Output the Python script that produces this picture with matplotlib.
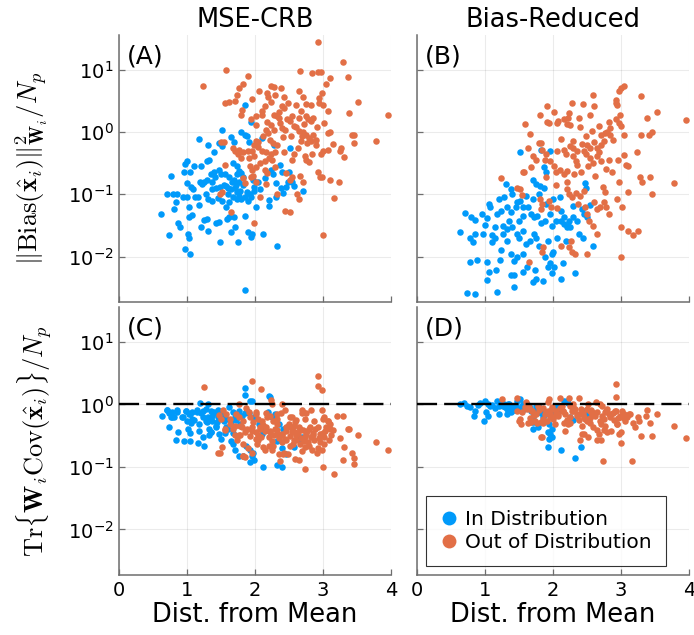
import matplotlib
matplotlib.use("Agg")
import matplotlib.pyplot as plt
from matplotlib.ticker import NullLocator, FixedLocator
from matplotlib.lines import Line2D

# ---------------- data ----------------
# (A) MSE-CRB, bias term
a_in_x = [1.85, 1.94, 1.52, 1.18, 1.31, 1.39, 1.47, 1.51, 1.65, 1.69, 1.79, 1.86, 1.88, 1.91, 2.10, 2.28, 2.51,
          1.29, 1.32, 1.00, 0.97, 1.11, 1.20, 0.96, 0.77, 0.86, 0.70, 0.79, 1.00, 1.06, 1.09, 1.19, 1.25, 1.29,
          1.37, 1.41, 1.47, 1.50, 1.56, 1.62, 1.66, 1.69, 1.74, 1.77, 1.82, 1.67, 1.73, 1.76, 1.95, 1.99, 2.05,
          2.23, 2.26, 2.31, 2.37, 2.40, 2.50, 2.49, 2.38, 2.41, 2.58, 2.71, 1.28, 1.31, 1.37, 1.45, 1.52, 1.57,
          1.62, 1.67, 1.73, 1.76, 1.80, 1.85, 1.89, 1.94, 2.02, 2.21, 2.31, 1.16, 1.18, 0.94, 1.00, 1.03, 1.12,
          0.81, 0.84, 0.62, 0.73, 0.87, 0.89, 1.03, 1.07, 1.20, 1.31, 1.25, 1.30, 1.42, 1.47, 1.59, 1.62, 1.69,
          1.71, 1.85, 1.64, 1.75, 1.02, 1.03, 0.97, 1.04, 1.49, 1.90, 1.96, 1.94, 2.12, 2.33, 1.86, 2.20, 2.45,
          2.55, 1.37, 1.43, 1.57, 1.60, 1.70, 1.73, 1.78, 1.88, 1.92, 1.98, 1.05, 1.22,
          1.40, 1.55, 1.65, 1.72, 1.83, 1.97, 2.08, 2.15, 1.35, 1.48, 1.61, 1.79]
a_in_y = [2.75, 1.45, 1.1, 0.78, 0.63, 0.47, 0.67, 0.59, 0.83, 0.69, 1.02, 0.91, 0.85, 0.69, 0.79, 0.63, 0.56,
          0.34, 0.36, 0.34, 0.31, 0.28, 0.28, 0.23, 0.20, 0.10, 0.10, 0.10, 0.15, 0.13, 0.12, 0.16, 0.16, 0.17,
          0.16, 0.19, 0.25, 0.21, 0.21, 0.19, 0.16, 0.17, 0.21, 0.16, 0.19, 0.32, 0.28, 0.24, 0.19, 0.13, 0.16,
          0.25, 0.21, 0.15, 0.30, 0.23, 0.23, 0.16, 0.126, 0.105, 0.135, 0.115, 0.10, 0.083, 0.078, 0.087, 0.078,
          0.062, 0.074, 0.089, 0.083, 0.093, 0.083, 0.089, 0.078, 0.091, 0.062, 0.081, 0.089, 0.089, 0.068,
          0.089, 0.089, 0.062, 0.091, 0.059, 0.074, 0.048, 0.022, 0.034, 0.030, 0.044, 0.046, 0.030, 0.026,
          0.038, 0.040, 0.035, 0.036, 0.040, 0.044, 0.043, 0.030, 0.045, 0.025, 0.017, 0.023, 0.020, 0.013,
          0.011, 0.017, 0.025, 0.023, 0.021, 0.023, 0.015, 0.0029, 0.065, 0.13, 0.16, 0.12, 0.126, 0.135,
          0.126, 0.126, 0.11, 0.115, 0.11, 0.10, 0.115, 0.23, 0.145,
          0.23, 0.14, 0.12, 0.14, 0.14, 0.17, 0.12, 0.18, 0.21, 0.13, 0.10, 0.22]
a_out_x = [2.92, 3.29, 1.58, 2.66, 2.84, 2.93, 2.97, 3.37, 1.89, 3.11, 1.24, 1.83, 1.77, 3.05, 2.24, 2.28, 2.38,
           2.06, 2.18, 2.19, 2.30, 2.65, 2.99, 2.43, 1.73, 1.71, 1.95, 2.70, 2.94, 2.24, 1.56, 1.62, 2.49, 2.60,
           2.39, 2.43, 2.75, 2.82, 2.94, 3.00, 3.08, 3.52, 3.96, 3.38, 1.81, 1.80, 2.01, 2.10, 2.10, 2.28, 2.32,
           1.94, 2.17, 2.37, 2.35, 2.51, 2.55, 2.65, 2.75, 2.78, 2.82, 2.91, 2.39, 2.44, 2.23, 2.28, 2.16, 2.19,
           2.61, 2.65, 2.71, 2.75, 2.80, 2.83, 2.69, 2.67, 2.77, 2.86, 3.08, 3.10, 3.14, 3.43, 3.46, 3.45, 3.78,
           3.25, 3.27, 3.31, 3.00, 2.97, 3.08, 2.89, 2.73, 2.75, 2.79, 2.84, 2.54, 1.50, 1.55, 1.67, 1.71, 1.77,
           1.82, 1.89, 1.95, 2.01, 2.05, 2.10, 2.16, 2.20, 2.23, 2.25, 2.30, 2.43, 1.75, 1.80, 1.91, 1.99, 2.08,
           2.15, 1.92, 1.95, 2.01, 1.56, 2.14, 2.18, 2.29, 1.82, 1.85, 1.94, 1.97, 2.16, 2.02, 1.48, 1.51, 2.08,
           2.33, 2.62, 2.64, 2.44, 2.51, 1.64, 1.99, 3.16, 3.00, 2.66, 2.71, 2.55, 2.51, 2.92, 2.96, 3.11, 3.24,
           2.99, 2.46,
           2.02, 2.12, 2.22, 2.33, 2.41, 2.47, 2.57, 2.63, 2.72, 2.86, 2.90, 3.02, 2.05, 2.26, 2.53, 2.68, 2.36,
           2.14, 1.98, 2.58]
a_out_y = [28, 13.5, 10, 9.6, 8.9, 9.1, 9.1, 7.8, 8.0, 7.4, 5.5, 5.9, 5.1, 5.9, 5.6, 5.3, 5.1, 4.5, 4.3, 3.7,
           4.0, 4.5, 4.3, 3.7, 4.0, 3.2, 3.4, 3.6, 3.5, 3.0, 2.9, 3.0, 2.9, 2.7, 2.6, 2.4, 2.8, 2.7, 2.9, 2.7,
           2.2, 3.0, 1.9, 2.0, 2.3, 1.9, 1.8, 2.2, 1.9, 1.9, 1.8, 1.6, 1.45, 1.4, 1.7, 1.5, 1.8, 1.7, 1.8, 1.6,
           1.5, 1.2, 1.17, 1.07, 1.3, 1.1, 1.1, 0.97, 1.2, 1.05, 1.0, 0.9, 0.8, 0.72, 0.86, 0.71, 0.67, 0.9,
           0.98, 1.0, 0.65, 0.9, 0.89, 0.67, 0.71, 0.49, 0.56, 0.40, 0.5, 0.44, 0.52, 0.62, 0.41, 0.35, 0.33,
           0.44, 0.35, 0.69, 0.69, 0.56, 0.5, 0.52, 0.48, 0.5, 0.49, 0.71, 0.69, 0.5, 0.47, 0.39, 0.44, 0.36,
           0.48, 0.47, 0.44, 0.39, 0.38, 0.41, 0.32, 0.34, 0.28, 0.25, 0.27, 0.30, 0.25, 0.22, 0.27, 0.18, 0.15,
           0.19, 0.20, 0.145, 0.16, 0.10, 0.11, 0.089, 0.10, 0.10, 0.083, 0.054, 0.052, 0.052, 0.035, 0.087,
           0.022, 0.20, 0.16, 0.19, 0.17, 0.23, 0.19, 0.17, 0.16, 0.19, 0.22,
           1.3, 0.85, 0.75, 0.62, 0.82, 1.6, 1.25, 0.55, 1.35, 1.7, 0.75, 1.4, 0.58, 0.68, 0.85, 2.2, 2.1,
           2.6, 0.62, 0.45]

# (B) Bias-Reduced, bias term
b_in_x = [1.52, 1.83, 1.87, 1.90, 1.96, 2.47, 2.49, 1.70, 1.75, 1.81, 1.87, 1.31, 1.38, 1.20, 1.06, 1.07, 0.70,
          0.79, 0.86, 0.96, 1.03, 1.18, 1.23, 1.32, 1.38, 1.45, 1.47, 1.52, 1.56, 1.63, 1.67, 1.72, 1.77, 1.82,
          1.88, 1.96, 1.98, 2.04, 2.12, 2.16, 2.22, 2.25, 2.30, 2.36, 2.43, 2.45, 2.50, 2.55, 0.63, 0.78, 0.82,
          0.86, 0.97, 1.00, 1.11, 1.14, 1.26, 1.27, 1.33, 1.39, 1.47, 1.50, 1.56, 1.60, 1.66, 1.72, 1.75, 1.79,
          1.92, 2.00, 1.98, 2.06, 2.19, 2.38, 2.44, 2.59, 0.78, 0.88, 1.03, 1.03, 1.06, 1.16, 1.22, 1.24, 1.38,
          1.42, 1.47, 1.56, 1.38, 1.42, 1.43, 1.56, 1.62, 1.73, 1.71, 1.75, 1.86, 1.92, 1.96, 2.01, 1.98, 2.12,
          2.14, 2.33, 0.74, 0.85, 1.18, 1.88, 2.12, 2.16, 2.20, 2.24, 1.10, 1.56, 1.50, 1.35, 1.32,
          1.60, 1.70, 1.80, 1.90, 2.00, 2.10, 1.40, 1.28, 1.15, 2.30]
b_in_y = [0.47, 0.52, 0.27, 0.23, 0.5, 0.15, 0.126, 0.17, 0.145, 0.135, 0.126, 0.145, 0.12, 0.083, 0.069, 0.063,
          0.050, 0.043, 0.038, 0.048, 0.042, 0.048, 0.054, 0.062, 0.052, 0.062, 0.074, 0.078, 0.062, 0.062, 0.048,
          0.043, 0.045, 0.035, 0.037, 0.048, 0.031, 0.037, 0.054, 0.043, 0.031, 0.030, 0.044, 0.037, 0.058, 0.048,
          0.044, 0.068, 0.025, 0.020, 0.017, 0.023, 0.023, 0.032, 0.022, 0.020, 0.031, 0.023, 0.018, 0.030, 0.023,
          0.020, 0.026, 0.016, 0.018, 0.023, 0.020, 0.015, 0.018, 0.012, 0.011, 0.020, 0.018, 0.023, 0.020, 0.015,
          0.0083, 0.0089, 0.0081, 0.0042, 0.0056, 0.0060, 0.0089, 0.0126, 0.011, 0.0085, 0.010, 0.011, 0.0051,
          0.0051, 0.0032, 0.0056, 0.0069, 0.0060, 0.0039, 0.0044, 0.0040, 0.0068, 0.0078, 0.0068, 0.0054, 0.0044,
          0.0078, 0.0054, 0.0026, 0.0025, 0.0027, 0.010, 0.037, 0.033, 0.030, 0.037, 0.017, 0.045, 0.037, 0.037,
          0.028,
          0.095, 0.085, 0.10, 0.07, 0.085, 0.09, 0.10, 0.09, 0.03, 0.065]
b_out_x = [3.04, 3.00, 2.97, 2.59, 3.30, 2.92, 2.93, 2.94, 2.28, 2.44, 2.61, 1.91, 2.02, 3.53, 2.24, 2.22, 2.55,
           1.81, 1.91, 1.94, 2.08, 2.06, 2.16, 2.20, 2.25, 2.38, 2.40, 2.99, 2.93, 2.97, 3.00, 3.38, 2.82, 2.84,
           2.67, 1.59, 3.96, 3.46, 3.41, 3.29, 3.05, 2.77, 2.80, 2.84, 2.71, 2.75, 1.66, 1.79, 1.82, 1.84, 1.63,
           1.71, 1.75, 1.68, 1.56, 1.58, 1.89, 1.88, 2.06, 2.16, 2.19, 2.25, 2.29, 2.35, 2.43, 2.50, 2.54, 2.60,
           2.45, 2.49, 2.65, 2.68, 2.71, 2.64, 2.55, 2.59, 2.82, 2.87, 2.96, 3.04, 3.07, 3.10, 3.24, 2.30, 2.34,
           1.96, 2.01, 2.05, 2.10, 2.16, 2.21, 2.31, 2.41, 1.89, 1.24, 1.47, 1.52, 1.55, 1.81, 1.84, 1.82, 1.94,
           1.97, 2.21, 2.24, 2.28, 2.34, 2.40, 2.37, 2.47, 2.45, 2.50, 2.53, 2.60, 2.65, 2.69, 2.59, 2.65, 2.75,
           2.78, 2.83, 2.94, 3.01, 3.11, 3.28, 3.31, 3.43, 3.45, 3.78, 2.97, 3.00, 3.11, 3.17, 3.25, 3.00, 2.12,
           2.24, 2.28, 2.33, 2.50, 1.86, 1.84, 1.65, 2.26, 2.06, 2.73, 2.77,
           2.12, 2.30, 2.48, 2.58, 2.70, 2.88, 2.35, 2.52, 2.62, 2.78, 2.20, 2.05]
b_out_y = [5.6, 5.1, 4.5, 4.0, 3.8, 3.3, 2.9, 2.7, 2.9, 2.8, 2.6, 2.6, 2.1, 2.1, 2.0, 1.7, 1.9, 1.9, 1.45, 1.4,
           1.5, 1.4, 1.6, 1.35, 1.3, 1.7, 1.2, 1.9, 1.6, 1.4, 1.23, 1.7, 1.45, 1.17, 1.23, 1.35, 1.55, 1.0, 0.91,
           0.89, 0.91, 0.98, 1.02, 0.91, 0.89, 0.71, 0.93, 0.67, 0.67, 0.52, 0.56, 0.41, 0.35, 0.27, 0.23, 0.23,
           0.44, 0.35, 0.5, 0.52, 0.45, 0.59, 0.56, 0.5, 0.65, 0.63, 0.56, 0.69, 0.49, 0.44, 0.56, 0.48, 0.34,
           0.41, 0.38, 0.32, 0.36, 0.23, 0.35, 0.43, 0.30, 0.28, 0.48, 0.41, 0.34, 0.34, 0.28, 0.23, 0.25, 0.21,
           0.24, 0.21, 0.23, 0.19, 0.18, 0.126, 0.12, 0.098, 0.083, 0.069, 0.058, 0.078, 0.062, 0.12, 0.10,
           0.089, 0.105, 0.093, 0.069, 0.062, 0.115, 0.048, 0.037, 0.074, 0.058, 0.062, 0.031, 0.023, 0.074,
           0.062, 0.048, 0.083, 0.062, 0.11, 0.19, 0.16, 0.19, 0.10, 0.15, 0.16, 0.030, 0.026, 0.022, 0.026,
           0.010, 0.015, 0.014, 0.012, 0.011, 0.011, 0.014, 0.012, 0.0083, 0.018, 0.06, 0.13, 0.11,
           0.78, 0.72, 0.85, 1.05, 0.62, 0.75, 0.30, 0.28, 0.20, 0.26, 0.16, 0.14]

# (C) MSE-CRB, covariance term
c_in_x = [1.85, 1.86, 2.21, 1.19, 1.31, 0.63, 0.70, 0.78, 0.86, 0.81, 0.74, 0.87, 0.84, 0.98, 1.04, 1.08, 0.94,
          1.00, 1.02, 1.05, 0.96, 1.04, 1.14, 1.20, 1.24, 1.28, 1.35, 1.40, 1.46, 1.18, 1.28, 1.33, 1.23, 1.16,
          1.25, 1.36, 1.42, 1.47, 1.50, 1.56, 1.62, 1.67, 1.70, 1.76, 1.81, 1.85, 1.91, 1.96, 1.98, 1.64, 1.67,
          1.71, 1.76, 1.82, 1.87, 1.92, 1.95, 1.98, 2.12, 2.32, 2.40, 2.39, 2.45, 2.58, 2.19, 2.25, 2.30, 2.69,
          2.06, 2.14, 2.11, 2.35, 2.41, 1.55, 1.58, 1.31, 1.37, 1.11, 1.06, 0.73, 0.77,
          0.71, 0.86, 0.93, 1.03, 1.08, 1.15, 1.23, 1.30, 1.37, 1.42, 1.18, 1.32, 0.78, 0.98, 1.39, 1.44, 1.36,
          1.53, 1.88, 1.80, 1.97, 1.93, 2.32, 2.66, 2.22, 1.93,
          1.45, 1.52, 1.58, 1.65, 1.72, 1.78, 1.60, 1.68]
c_in_y = [1.85, 1.4, 1.35, 1.05, 1.02, 0.66, 0.81, 0.76, 0.81, 0.63, 0.43, 0.36, 0.27, 0.79, 0.71, 0.76, 0.63,
          0.55, 0.41, 0.35, 0.26, 0.26, 0.81, 0.72, 0.79, 0.85, 0.79, 0.72, 0.81, 0.49, 0.55, 0.41, 0.30, 0.24,
          0.22, 0.36, 0.46, 0.34, 0.28, 0.35, 0.91, 0.76, 0.63, 0.79, 0.65, 0.72, 0.72, 1.12, 0.63, 0.26, 0.23,
          0.19, 0.15, 0.15, 0.22, 0.19, 0.15, 0.13, 0.10, 0.107, 0.10, 0.20, 0.16, 0.21, 0.76, 0.63, 0.71, 0.30,
          0.49, 0.41, 0.34, 0.49, 0.41, 0.55, 0.44, 0.63, 0.55, 0.57, 0.50, 0.72, 0.63,
          0.83, 0.76, 0.63, 0.71, 0.59, 0.76, 0.63, 0.52, 0.66, 0.43, 0.38, 0.32, 0.63, 0.79, 0.76, 0.52, 0.36,
          0.66, 0.79, 0.66, 0.17, 0.12, 0.26, 0.28, 1.3, 1.15,
          0.62, 0.70, 0.58, 0.52, 0.56, 0.48, 0.40, 0.35]
c_out_x = [2.92, 1.25, 1.95, 2.09, 2.92, 2.98, 2.23, 2.25, 2.39, 1.76, 1.53, 1.58, 1.47, 1.50, 1.72, 1.77, 1.82,
           1.87, 1.91, 2.01, 2.05, 2.10, 2.16, 2.22, 2.26, 2.32, 2.38, 2.44, 2.55, 2.60, 2.69, 2.75, 2.83, 2.87,
           2.69, 2.73, 3.02, 3.08, 3.10, 2.99, 3.29, 3.37, 3.38, 3.52, 3.25, 3.31, 3.43, 3.45, 3.45, 3.29, 3.78,
           3.96, 3.00, 3.16, 2.73, 2.59, 2.64, 2.35, 2.41, 1.83, 1.85, 1.46, 1.51, 1.90, 1.95, 2.14, 2.20, 2.25,
           2.04, 2.09, 1.81, 1.86, 1.92, 1.96, 2.01, 2.07, 2.16, 2.22, 2.28, 2.33, 2.40, 2.45, 2.50, 2.55, 2.59,
           2.65, 2.71, 2.75, 2.80, 2.86, 2.92, 2.96, 3.02, 3.09, 3.14, 3.12, 2.60, 2.66, 2.73, 2.79, 2.84, 2.92,
           2.45, 2.51, 1.63, 1.68, 1.56, 1.76, 1.73, 3.02, 2.99,
           1.63, 1.78, 1.88, 1.97, 2.07, 2.17, 2.22, 2.32, 2.39, 2.47, 2.54, 2.59, 2.66, 2.74, 2.81, 2.86, 2.96,
           3.03, 3.08, 1.71, 1.83, 2.02, 2.12, 2.27, 2.42, 2.56, 2.69, 1.93, 2.02, 2.32, 2.51, 2.71, 1.56, 1.49,
           1.83, 2.37, 2.49, 2.91, 3.10, 3.20, 3.00, 2.15, 2.34, 2.44, 2.61, 2.78,
           1.95, 2.05, 2.12, 2.20, 2.30, 2.36, 2.46, 2.52, 2.58, 2.63, 2.68, 2.77, 2.82, 2.88, 2.94, 3.00, 3.05,
           2.25, 2.40, 2.57, 2.72, 2.87, 2.03, 1.78, 1.70]
c_out_y = [2.9, 1.9, 2.35, 1.8, 1.95, 1.7, 1.18, 1.02, 1.0, 1.02, 0.81, 0.71, 0.69, 0.59, 0.71, 0.63, 0.55, 0.89,
           0.76, 0.71, 0.59, 0.55, 0.72, 0.65, 0.55, 0.59, 0.72, 0.81, 0.63, 0.57, 0.81, 0.72, 0.81, 0.55, 0.72,
           0.59, 0.63, 0.55, 0.49, 0.81, 0.65, 0.41, 0.41, 0.32, 0.29, 0.21, 0.17, 0.14, 0.11, 0.13, 0.25, 0.19,
           0.10, 0.076, 0.091, 0.135, 0.13, 0.16, 0.16, 0.15, 0.145, 0.17, 0.21, 0.20, 0.17, 0.19, 0.22, 0.19,
           0.27, 0.30, 0.44, 0.36, 0.31, 0.44, 0.36, 0.40, 0.44, 0.37, 0.32, 0.39, 0.34, 0.44, 0.48, 0.41, 0.36,
           0.44, 0.39, 0.34, 0.41, 0.35, 0.44, 0.34, 0.30, 0.27, 0.39, 0.32, 0.27, 0.23, 0.21, 0.22, 0.19, 0.20,
           0.27, 0.22, 0.49, 0.41, 0.39, 0.32, 0.27, 0.23, 0.19,
           0.59, 0.46, 0.41, 0.52, 0.43, 0.63, 0.36, 0.49, 0.32, 0.43, 0.36, 0.52, 0.41, 0.30, 0.43, 0.32, 0.25,
           0.38, 0.55, 0.32, 0.23, 0.28, 0.21, 0.22, 0.17, 0.23, 0.18, 0.63, 0.76, 0.71, 0.63, 0.76, 0.41, 0.17,
           0.15, 0.126, 0.16, 0.17, 0.41, 0.66, 0.59, 0.38, 0.34, 0.28, 0.32, 0.25,
           0.37, 0.33, 0.47, 0.30, 0.40, 0.29, 0.37, 0.31, 0.45, 0.35, 0.29, 0.37, 0.30, 0.40, 0.29, 0.35, 0.44,
           0.26, 0.25, 0.27, 0.26, 0.27, 0.23, 0.33, 0.45]

# (D) Bias-Reduced, covariance term
d_in_x = [0.63, 0.69, 0.74, 0.78, 0.86, 0.84, 0.98, 0.93, 1.00, 1.04, 1.08, 1.02, 1.05, 1.18, 1.23, 1.26, 1.30,
          1.21, 1.33, 1.38, 1.35, 1.40, 1.43, 1.47, 1.52, 1.56, 1.60, 1.70, 1.72, 1.71, 1.86, 1.94, 1.98, 1.96,
          1.94, 1.92, 2.12, 2.33, 2.41, 2.16, 2.22, 2.06, 2.11, 2.25, 2.30, 2.45, 2.50, 1.80, 1.85,
          1.34, 1.44, 1.39, 1.69, 1.78, 1.93, 1.98, 2.20, 1.10, 1.15, 1.28, 1.32, 1.45, 1.50, 1.55, 1.62, 1.66,
          1.75, 0.90, 1.20,
          1.58, 1.64, 1.68, 1.76, 1.82, 1.88, 1.95, 2.02]
d_in_y = [1.02, 1.05, 0.96, 0.91, 0.80, 0.66, 0.54, 1.05, 1.12, 1.02, 0.93, 0.76, 0.66, 1.15, 1.05, 0.96, 0.91,
          0.71, 0.71, 0.76, 1.02, 0.91, 0.81, 1.12, 1.23, 1.02, 0.91, 0.63, 0.52, 0.41, 0.63, 0.49, 0.41, 0.34,
          0.28, 0.21, 0.19, 0.14, 0.21, 1.15, 1.05, 0.91, 0.81, 0.63, 0.57, 0.79, 0.71, 0.91, 0.79,
          1.02, 0.91, 0.85, 0.52, 0.43, 0.36, 0.30, 1.15, 0.98, 0.87, 1.0, 0.86, 0.98, 0.86, 0.95, 1.0, 0.88,
          0.95, 0.98, 0.93,
          0.84, 0.95, 0.78, 0.86, 0.74, 0.70, 0.80, 0.76]
d_out_x = [2.92, 2.92, 1.25, 1.47, 1.94, 2.10, 2.24, 2.38, 2.63, 2.69, 1.47, 1.50, 1.53, 1.65, 1.69, 1.75, 1.76,
           1.86, 1.91, 1.84, 1.98, 2.04, 2.08, 2.14, 2.16, 2.21, 2.25, 2.30, 2.35, 2.41, 2.45, 2.50, 2.55, 2.60,
           2.39, 2.43, 2.52, 2.65, 2.70, 2.75, 2.80, 2.64, 2.70, 2.73, 3.16, 2.86, 2.92, 2.99, 3.04, 2.94, 3.00,
           2.97, 3.00, 3.08, 3.12, 3.29, 3.25, 3.27, 3.38, 3.37, 3.43, 3.45, 3.53, 3.78, 3.96, 3.18, 3.20, 2.78,
           2.82, 2.56, 2.58, 1.63, 1.67, 2.25, 2.30, 1.86, 1.92, 1.96, 2.00,
           1.59, 1.69, 1.78, 1.88, 1.98, 2.08, 2.15, 2.25, 2.32, 2.40, 2.47, 2.54, 2.62, 2.69, 2.76, 2.84, 2.91,
           2.99, 3.06, 3.13, 1.83, 2.03, 2.22, 2.42, 2.59, 2.76, 2.94, 1.74, 1.61, 1.93, 2.52, 2.72, 2.30, 2.13,
           2.45, 2.67, 2.86, 2.18, 1.83, 1.51,
           1.55, 1.62, 1.72, 1.80, 1.90, 1.95, 2.05, 2.10, 2.18, 2.28, 2.36, 2.44, 2.50, 2.57, 2.64, 2.72, 2.80,
           2.88, 2.95, 3.02, 3.09, 1.66, 1.85, 2.00, 2.20, 2.38, 2.55, 2.75, 2.90, 3.05]
d_out_y = [2.1, 1.3, 1.23, 1.28, 1.23, 1.28, 1.28, 1.28, 1.1, 1.0, 0.80, 0.55, 0.49, 0.91, 0.80, 0.71, 0.50,
           0.50, 0.55, 0.30, 0.91, 0.80, 0.71, 0.78, 0.50, 0.55, 0.50, 0.80, 0.71, 0.85, 0.63, 0.55, 0.50, 0.71,
           0.27, 0.34, 0.30, 0.39, 0.49, 0.39, 0.36, 0.27, 0.27, 0.126, 0.126, 0.71, 0.80, 0.63, 0.71, 0.49, 0.36,
           0.34, 0.24, 0.63, 0.71, 0.31, 0.63, 0.55, 0.81, 0.65, 0.50, 0.31, 0.71, 0.46, 0.29, 0.50, 0.44, 0.80,
           0.71, 0.81, 0.76, 0.50, 0.52, 0.96, 0.91, 0.89, 0.80, 0.71, 0.62,
           0.91, 0.80, 0.96, 0.71, 0.85, 0.66, 0.80, 0.63, 0.85, 0.71, 0.59, 0.80, 0.66, 0.55, 0.76, 0.63, 0.80,
           0.66, 0.55, 0.71, 0.52, 0.49, 0.49, 0.46, 0.43, 0.46, 0.49, 0.55, 1.1, 1.1, 1.02, 0.96, 1.02, 0.96,
           0.34, 0.34, 0.38, 0.38, 0.30, 0.59,
           0.75, 0.86, 0.68, 0.82, 0.76, 0.62, 0.74, 0.88, 0.70, 0.78, 0.66, 0.74, 0.84, 0.70, 0.76, 0.66, 0.86,
           0.72, 0.60, 0.78, 0.62, 0.60, 0.58, 0.58, 0.57, 0.56, 0.60, 0.58, 0.57, 0.60]

col_titles = ["MSE-CRB", "Bias-Reduced"]
panel_tags = ["(A)", "(B)", "(C)", "(D)"]
series_names = ["In Distribution", "Out of Distribution"]
x_ticks = [0, 1, 2, 3, 4]
y_ticks = [1e-2, 1e-1, 1e0, 1e1]

# ---------------- style ----------------
BLUE = "#009AFA"
ORANGE = "#E26F46"
AXIS_GRAY = "#6e6e6e"
plt.rcParams["font.family"] = ["DejaVu Sans"]

W, H = 694, 635
fig = plt.figure(figsize=(W / 100, H / 100), dpi=100)


def add_ax(x0, y0, x1, y1):
    return fig.add_axes([x0 / W, 1 - y1 / H, (x1 - x0) / W, (y1 - y0) / H])


axA = add_ax(119, 35, 391, 302)
axB = add_ax(417, 35, 689, 302)
axC = add_ax(119, 307, 391, 575)
axD = add_ax(417, 307, 689, 575)
axes = [axA, axB, axC, axD]

panels = [
    (a_in_x, a_in_y, a_out_x, a_out_y),
    (b_in_x, b_in_y, b_out_x, b_out_y),
    (c_in_x, c_in_y, c_out_x, c_out_y),
    (d_in_x, d_in_y, d_out_x, d_out_y),
]

for i, (ax, (ix, iy, ox, oy)) in enumerate(zip(axes, panels)):
    ax.set_yscale("log")
    ax.set_xlim(0, 4)
    ax.set_ylim(10 ** -2.73, 10 ** 1.56)
    ax.scatter(ix, iy, s=22, color=BLUE, linewidths=0, zorder=3)
    ax.scatter(ox, oy, s=22, color=ORANGE, linewidths=0, zorder=4)
    ax.xaxis.set_major_locator(FixedLocator(x_ticks))
    ax.yaxis.set_major_locator(FixedLocator(y_ticks))
    ax.yaxis.set_minor_locator(NullLocator())
    ax.xaxis.set_minor_locator(NullLocator())
    ax.grid(True, color="black", alpha=0.08, linewidth=0.8)
    ax.set_axisbelow(True)
    for side in ("top", "right"):
        ax.spines[side].set_visible(False)
    for side in ("left", "bottom"):
        ax.spines[side].set_color(AXIS_GRAY)
        ax.spines[side].set_linewidth(1.1)
    ax.tick_params(direction="in", length=4.5, width=0.9, color=AXIS_GRAY,
                   labelsize=14, pad=4)
    ax.text(0.03, 0.965, panel_tags[i], transform=ax.transAxes,
            fontsize=18, ha="left", va="top")
    if i < 2:
        ax.tick_params(labelbottom=False)
        ax.set_title(col_titles[i], fontsize=18.5, pad=6)
    else:
        ax.set_xlabel("Dist. from Mean", fontsize=18.5, labelpad=2)
        ax.axhline(1.0, color="black", linewidth=1.7, dashes=(8.5, 3), zorder=5)
    if i % 2 == 1:
        ax.tick_params(labelleft=False)

axA.set_ylabel(r"$\Vert\mathrm{Bias}(\hat{\mathbf{x}}_i)\Vert^2_{\mathbf{W}_i}/N_p$",
               fontsize=19, math_fontfamily="cm")
axC.set_ylabel(r"$\mathrm{Tr}\{\mathbf{W}_i\mathrm{Cov}(\hat{\mathbf{x}}_i)\}/N_p$",
               fontsize=19, math_fontfamily="cm")
axA.yaxis.set_label_coords(-0.255, 0.5)
axC.yaxis.set_label_coords(-0.235, 0.5)

handles = [Line2D([], [], linestyle="none", marker="o", markersize=10,
                  markerfacecolor=c, markeredgewidth=0) for c in (BLUE, ORANGE)]
leg = axD.legend(handles, series_names, loc="lower left", bbox_to_anchor=(0.033, 0.034),
                 borderaxespad=0, fontsize=14.5, frameon=True, fancybox=False,
                 handletextpad=0.35, handlelength=0.9, borderpad=0.7, labelspacing=0.2)
leg.get_frame().set_edgecolor("black")
leg.get_frame().set_linewidth(0.8)

fig.savefig("out.png", dpi=100)
